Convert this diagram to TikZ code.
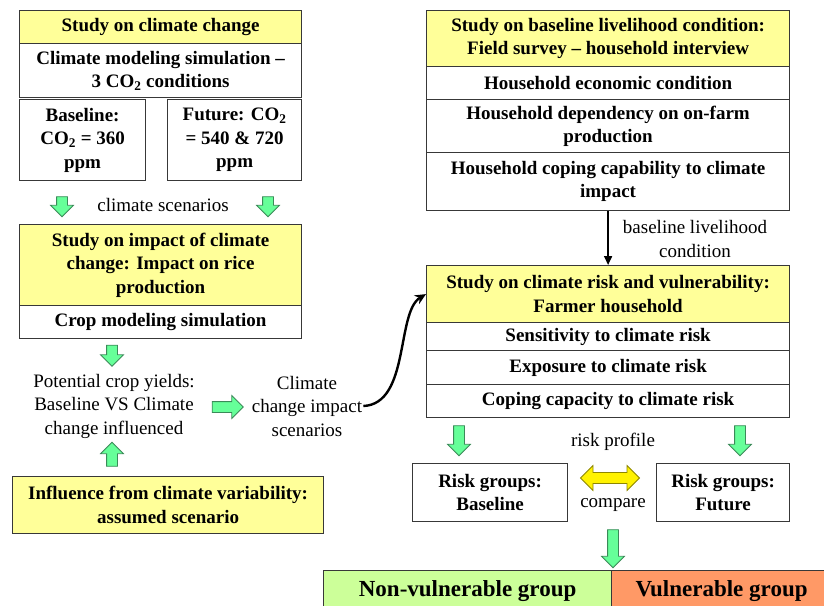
\documentclass[tikz,border=0pt]{standalone}
\usepackage{fontspec}
\setmainfont{Liberation Serif}
\usetikzlibrary{arrows.meta,shapes.arrows}
\definecolor{hdr}{HTML}{FFFF99}
\definecolor{boxline}{HTML}{383838}
\definecolor{mint}{HTML}{66FF99}
\definecolor{mintdark}{HTML}{3A8A58}
\definecolor{nvgreen}{HTML}{CCFF99}
\definecolor{vorange}{HTML}{FF9966}
\begin{document}
\begin{tikzpicture}[x=1pt,y=-1pt,font=\fontsize{19}{23.5}\selectfont,
  cell/.style={draw=boxline,line width=1.2pt,anchor=north west,align=center,inner sep=0pt,
    font=\fontsize{19}{23.5}\selectfont\bfseries},
  head/.style={cell,fill=hdr},
  note/.style={align=center,inner sep=1pt},
  garrow/.style={single arrow,draw=mintdark,fill=mint,line width=0.8pt,inner xsep=0pt,inner ysep=5pt,
    minimum width=22pt,single arrow head extend=6pt}]
\useasboundingbox (0,0) rectangle (824,605);
\clip (0,0) rectangle (824,605);
% left column
\node[head,minimum width=282,minimum height=33] (cc) at (19,10) {Study on climate change};
\node[cell,minimum width=282,minimum height=54] (cms) at (19,43) {Climate modeling simulation --\\3 CO\textsubscript{2} conditions};
\node[cell,minimum width=126,minimum height=81] (base) at (19,99) {Baseline:\\CO\textsubscript{2} = 360\\ppm};
\node[cell,minimum width=134,minimum height=81] (fut) at (167,99) {Future: CO\textsubscript{2}\\= 540 \& 720\\ppm};
\node[garrow,rotate=-90,minimum height=20] (d1) at (62,204) {};
\node[garrow,rotate=-90,minimum height=20] (d2) at (268,204) {};
\node[note] (scen) at (163,205) {climate scenarios};
\node[head,minimum width=282,minimum height=81] (imp) at (19,224) {Study on impact of climate\\change: Impact on rice\\production};
\node[cell,minimum width=282,minimum height=33] (crop) at (19,305) {Crop modeling simulation};
\node[garrow,rotate=-90,minimum height=21] (d3) at (112,353) {};
\node[note] (yld) at (114,406) {Potential crop yields:\\Baseline VS Climate\\change influenced};
\node[garrow,minimum height=31] (r1) at (225,407) {};
\node[note] (ccis) at (307,406) {Climate\\change impact\\scenarios};
\node[garrow,rotate=90,minimum height=24] (u1) at (112,457) {};
\node[head,minimum width=311,minimum height=57] (infl) at (12,476) {Influence from climate variability:\\assumed scenario};
% right column
\node[head,minimum width=363,minimum height=56] (blh) at (426,10) {Study on baseline livelihood condition:\\Field survey -- household interview};
\node[cell,minimum width=363,minimum height=33] (eco) at (426,66) {Household economic condition};
\node[cell,minimum width=363,minimum height=53] (dep) at (426,99) {Household dependency on on-farm\\production};
\node[cell,minimum width=363,minimum height=58] (cop) at (426,152) {Household coping capability to climate\\impact};
\node[note] (blc) at (695,239) {baseline livelihood\\condition};
\node[head,minimum width=363,minimum height=57] (rv) at (426,265) {Study on climate risk and vulnerability:\\Farmer household};
\node[cell,minimum width=363,minimum height=28] (sen) at (426,322) {Sensitivity to climate risk};
\node[cell,minimum width=363,minimum height=34] (exp) at (426,350) {Exposure to climate risk};
\node[cell,minimum width=363,minimum height=33] (cap) at (426,384) {Coping capacity to climate risk};
\node[garrow,rotate=-90,minimum height=30] (d4) at (459,438) {};
\node[garrow,rotate=-90,minimum height=30] (d5) at (740,438) {};
\node[note] (rp) at (613,442) {risk profile};
\node[cell,minimum width=155,minimum height=58] (rgb) at (412,463) {Risk groups:\\Baseline};
\node[cell,minimum width=133,minimum height=58] (rgf) at (656,463) {Risk groups:\\Future};
\node[double arrow,draw=olive,fill=yellow,line width=0.8pt,inner xsep=0pt,inner ysep=5pt,minimum width=25pt,
  double arrow head extend=7pt,minimum height=59] (cmp) at (610,478) {};
\node[note] (cmpt) at (613,505) {compare};
\node[garrow,rotate=-90,minimum height=38] (d6) at (613,546) {};
\node[cell,fill=nvgreen,minimum width=288,minimum height=40,font=\fontsize{23}{27}\selectfont\bfseries] (nv) at (323,570) {Non-vulnerable group};
\node[cell,fill=vorange,minimum width=220,minimum height=40,font=\fontsize{23}{27}\selectfont\bfseries] (vg) at (611,570) {Vulnerable group};
% connectors
\draw[line width=1.6pt,-{Triangle[length=9pt,width=8pt]}] (cop) -- (rv);
\draw[line width=2.4pt,-{Stealth[length=11pt,width=10pt]}] (ccis.east) .. controls (410,404) and (396,312) .. (rv.west);
\end{tikzpicture}
\end{document}
